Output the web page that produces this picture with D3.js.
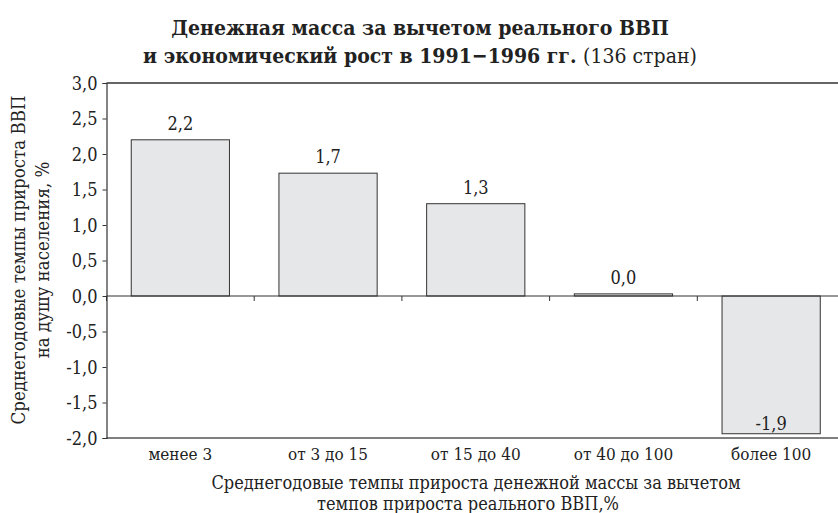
<!DOCTYPE html>
<html>
<head>
<meta charset="utf-8">
<script src="https://cdn.jsdelivr.net/npm/d3@7"></script>
<style>
  body { margin: 0; background: #fff; }
  svg text { font-family: "DejaVu Serif Condensed", "DejaVu Serif", serif; font-stretch: condensed; fill: #222; }
</style>
</head>
<body>
<div id="chart"></div>
<script>
var width = 838, height = 513;

// data
var categories = ["менее 3", "от 3 до 15", "от 15 до 40", "от 40 до 100", "более 100"];
var values = [2.2, 1.73, 1.3, 0.03, -1.94];
var valueLabels = ["2,2", "1,7", "1,3", "0,0", "-1,9"];
var yTicks = [3.0, 2.5, 2.0, 1.5, 1.0, 0.5, 0.0, -0.5, -1.0, -1.5, -2.0];
var titleLine1 = "Денежная масса за вычетом реального ВВП";
var titleLine2Bold = "и экономический рост в 1991−1996 гг. ";
var titleLine2Rest = "(136 стран)";
var yTitle = ["Среднегодовые темпы прироста ВВП", "на душу населения, %"];
var xTitle = ["Среднегодовые темпы прироста денежной массы за вычетом", "темпов прироста реального ВВП,%"];

var svg = d3.select("#chart")
  .append("svg")
  .attr("width", width)
  .attr("height", height);

var plotLeft = 106.5, plotRight = 845, plotTop = 83, plotBottom = 438;

var x = d3.scaleBand()
  .domain(categories)
  .range([plotLeft, plotRight])
  .paddingInner(0.335)
  .paddingOuter(0.1675);

var y = d3.scaleLinear()
  .domain([-2, 3])
  .range([plotBottom, plotTop]);

var fmt = function(v) { return d3.format(".1f")(v).replace(".", ",").replace("−", "-"); };

// title
svg.append("text")
  .attr("x", 420).attr("y", 35)
  .attr("text-anchor", "middle")
  .attr("font-weight", "bold")
  .style("font-size", "21px")
  .text(titleLine1);
var t2 = svg.append("text")
  .attr("x", 420).attr("y", 63)
  .attr("text-anchor", "middle")
  .style("font-size", "21px");
t2.append("tspan").attr("font-weight", "bold").text(titleLine2Bold);
t2.append("tspan").attr("font-weight", "normal").text(titleLine2Rest);

// frame lines (top and bottom across the plot)
svg.append("line")
  .attr("x1", plotLeft).attr("x2", width)
  .attr("y1", y(3)).attr("y2", y(3))
  .attr("stroke", "#333").attr("stroke-width", 1.3);
svg.append("line")
  .attr("x1", plotLeft).attr("x2", width)
  .attr("y1", y(-2)).attr("y2", y(-2))
  .attr("stroke", "#555").attr("stroke-width", 1.3);

// bars
svg.selectAll(".bar")
  .data(values)
  .enter().append("rect")
  .attr("class", "bar")
  .attr("x", function(d, i) { return x(categories[i]); })
  .attr("width", x.bandwidth())
  .attr("y", function(d) { return y(Math.max(0, d)); })
  .attr("height", function(d) { return Math.abs(y(d) - y(0)); })
  .attr("fill", "#e6e7e8")
  .attr("stroke", "#333")
  .attr("stroke-width", 1);

// zero line with category ticks
svg.append("line")
  .attr("x1", plotLeft).attr("x2", width)
  .attr("y1", y(0)).attr("y2", y(0))
  .attr("stroke", "#333").attr("stroke-width", 1.2);
svg.selectAll(".xtick")
  .data(categories)
  .enter().append("line")
  .attr("x1", function(d) { return x(d) - x.step() * 0.1675; })
  .attr("x2", function(d) { return x(d) - x.step() * 0.1675; })
  .attr("y1", y(0)).attr("y2", y(0) + 5)
  .attr("stroke", "#333");

// category labels
svg.selectAll(".xlabel")
  .data(categories)
  .enter().append("text")
  .attr("x", function(d) { return x(d) + x.bandwidth() / 2; })
  .attr("y", 460)
  .attr("text-anchor", "middle")
  .style("font-size", "17px")
  .text(function(d) { return d; });

// y axis
var yAxis = d3.axisLeft(y)
  .tickValues(yTicks)
  .tickSize(4)
  .tickFormat(fmt);
var gy = svg.append("g")
  .attr("transform", "translate(" + plotLeft + ",0)")
  .call(yAxis);
gy.attr("font-family", null).attr("font-size", null);
gy.select(".domain").attr("stroke", "#333").attr("stroke-width", 1.2);
gy.selectAll(".tick line").attr("stroke", "#333");
gy.selectAll(".tick text")
  .attr("x", -9)
  .attr("dy", "0.35em")
  .style("font-size", "18px")
  .attr("fill", "#222");

// value labels
svg.selectAll(".vlabel")
  .data(values)
  .enter().append("text")
  .attr("x", function(d, i) { return x(categories[i]) + x.bandwidth() / 2; })
  .attr("y", function(d) { return d >= 0 ? y(d) - 10 : y(d) - 4; })
  .attr("text-anchor", "middle")
  .style("font-size", "18px")
  .text(function(d, i) { return valueLabels[i]; });

// y title
var yt = svg.append("text")
  .attr("transform", "translate(0,260) rotate(-90)")
  .attr("text-anchor", "middle")
  .style("font-size", "18.5px");
yt.append("tspan").attr("x", 0).attr("y", 25).text(yTitle[0]);
yt.append("tspan").attr("x", 0).attr("y", 49).text(yTitle[1]);

// x title
var xt = svg.append("text")
  .attr("text-anchor", "middle")
  .style("font-size", "18px");
xt.append("tspan").attr("x", 476).attr("y", 489).text(xTitle[0]);
xt.append("tspan").attr("x", 468).attr("y", 510).text(xTitle[1]);
</script>
</body>
</html>
